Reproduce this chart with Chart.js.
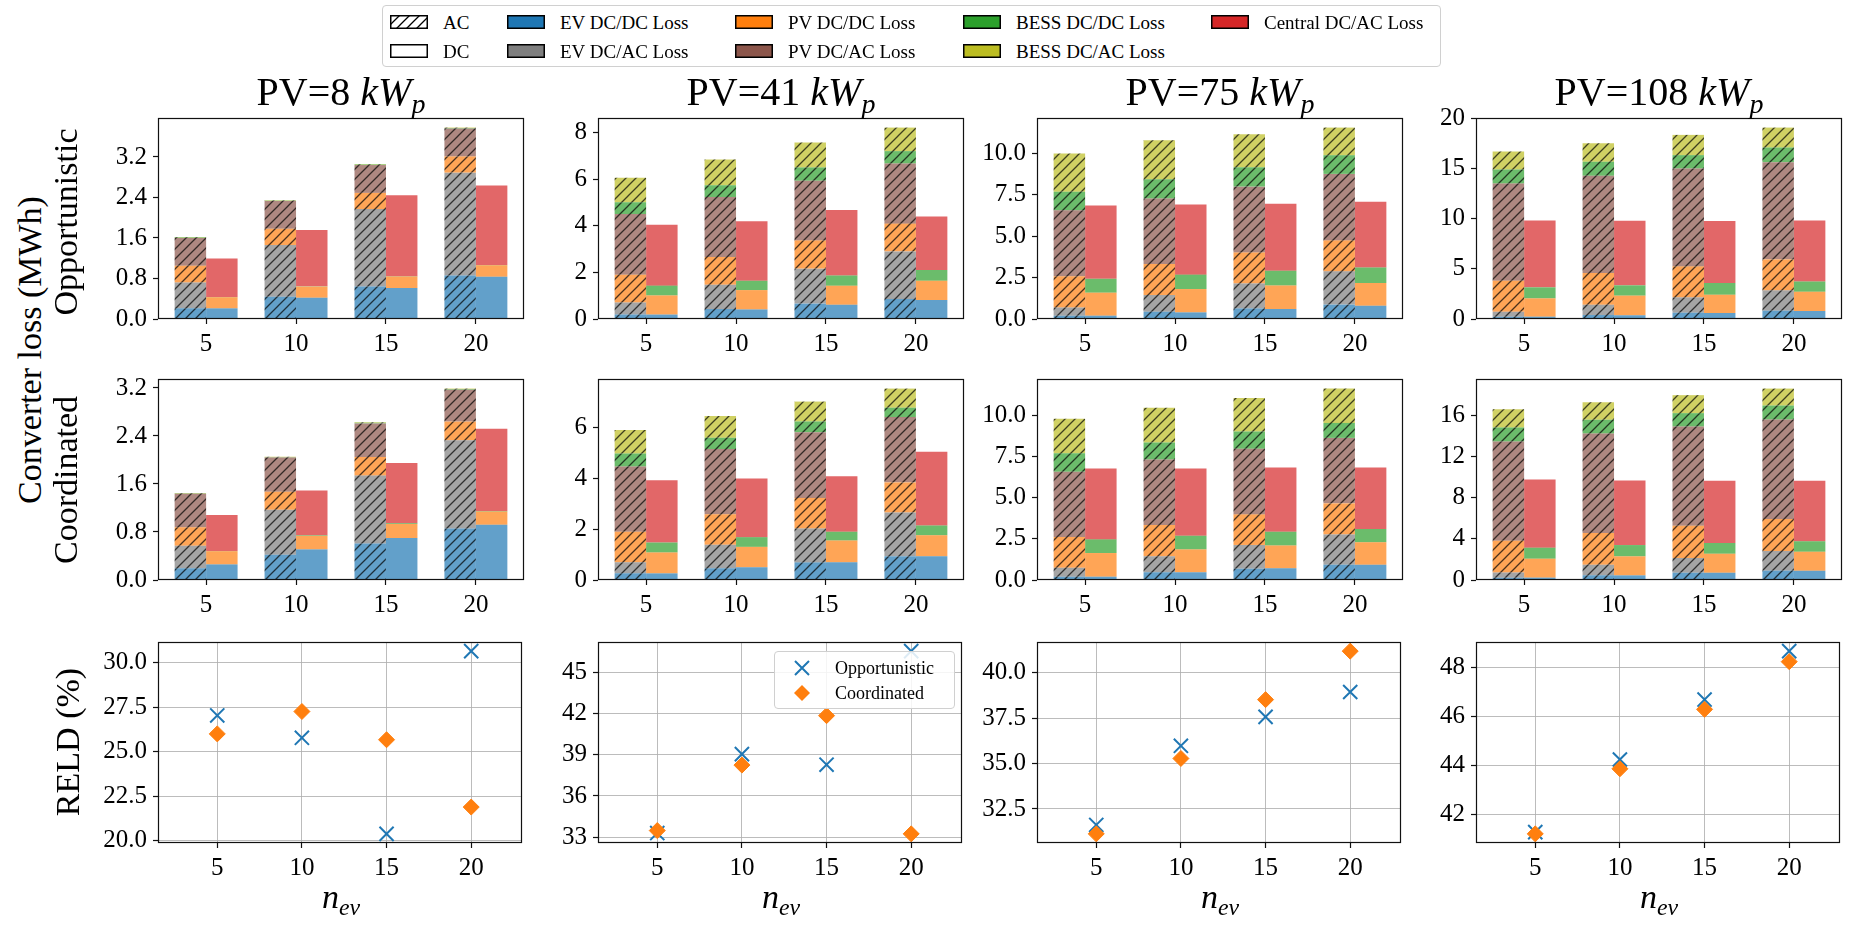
<!DOCTYPE html>
<html>
<head>
<meta charset="utf-8">
<script src="https://cdn.jsdelivr.net/npm/chart.js@4.4.0/dist/chart.umd.min.js"></script>
<style>
  body { margin: 0; width: 1850px; height: 926px; background: #fff; position: relative; overflow: hidden;
         font-family: "Liberation Serif", serif; color: #000; }
  canvas.panel { position: absolute; }
  .lbl { position: absolute; white-space: nowrap; line-height: 1; }
  .center { transform: translateX(-50%); }
  .rot { transform: translate(-50%, -50%) rotate(-90deg); }
  sub { font-size: 0.7em; vertical-align: -0.3em; }
  #legend { position: absolute; left: 382px; top: 5px; width: 1059px; height: 62px; box-sizing: border-box;
            border: 1px solid #d0d0d0; border-radius: 4px; background: #fff; z-index: 5; }
  #legend2 { position: absolute; left: 774px; top: 651px; width: 181px; height: 58px; box-sizing: border-box;
             border: 1px solid #d0d0d0; border-radius: 4px; background: rgba(255,255,255,0.85); z-index: 5; }
  .leg-txt { position: absolute; white-space: nowrap; line-height: 1; transform: translateY(-50%); }
  .leg-box { position: absolute; }
</style>
</head>
<body>
<div id="legend"></div>
<div id="legend2"></div>
<script>
const pvSizes = [8, 41, 75, 108];
const nEv = [5, 10, 15, 20];

// Converter losses (MWh), one row per PV size, one column per n_ev
// Opportunistic, AC-coupled bar (bottom to top)
const oppAcEvDcdc   = [[0.21, 0.44, 0.64, 0.86], [0.19, 0.43, 0.66, 0.86], [0.20, 0.44, 0.64, 0.87], [0.23, 0.40, 0.63, 0.83]];
const oppAcEvDcac   = [[0.51, 1.02, 1.53, 2.03], [0.52, 1.04, 1.50, 2.04], [0.50, 1.01, 1.51, 2.01], [0.50, 1.03, 1.53, 2.03]];
const oppAcPvDcdc   = [[0.33, 0.32, 0.32, 0.32], [1.19, 1.19, 1.21, 1.19], [1.88, 1.87, 1.87, 1.87], [3.09, 3.15, 3.09, 3.09]];
const oppAcPvDcac   = [[0.55, 0.55, 0.55, 0.55], [2.60, 2.57, 2.56, 2.58], [4.00, 3.96, 3.98, 4.02], [9.70, 9.71, 9.77, 9.70]];
const oppAcBessDcdc = [[0.01, 0.005, 0.01, 0.01], [0.51, 0.51, 0.57, 0.53], [1.11, 1.17, 1.17, 1.13], [1.40, 1.39, 1.33, 1.46]];
const oppAcBessDcac = [[0.01, 0.01, 0.01, 0.01], [1.05, 1.10, 1.07, 1.01], [2.31, 2.35, 2.00, 1.67], [1.79, 1.86, 2.02, 1.99]];
// Opportunistic, DC-coupled bar
const oppDcEvDcdc   = [[0.21, 0.42, 0.61, 0.835], [0.19, 0.41, 0.61, 0.81], [0.20, 0.40, 0.60, 0.80], [0.23, 0.37, 0.60, 0.80]];
const oppDcPvDcdc   = [[0.22, 0.22, 0.23, 0.225], [0.82, 0.83, 0.82, 0.83], [1.39, 1.41, 1.43, 1.37], [1.83, 1.96, 1.83, 1.92]];
const oppDcBessDcdc = [[0.005, 0.005, 0.005, 0.005], [0.42, 0.40, 0.44, 0.46], [0.84, 0.87, 0.89, 0.95], [1.10, 1.03, 1.16, 1.03]];
const oppDcCentral  = [[0.76, 1.11, 1.60, 1.57], [2.61, 2.55, 2.80, 2.30], [4.43, 4.24, 4.04, 3.96], [6.67, 6.44, 6.18, 6.08]];

// Coordinated, AC-coupled bar
const coAcEvDcdc   = [[0.195, 0.42, 0.61, 0.86], [0.26, 0.46, 0.69, 0.93], [0.20, 0.47, 0.69, 0.93], [0.23, 0.45, 0.71, 0.91]];
const coAcEvDcac   = [[0.375, 0.75, 1.13, 1.47], [0.44, 0.92, 1.33, 1.72], [0.55, 0.97, 1.44, 1.84], [0.51, 1.04, 1.43, 1.91]];
const coAcPvDcdc   = [[0.31, 0.30, 0.31, 0.31], [1.19, 1.20, 1.20, 1.18], [1.86, 1.90, 1.86, 1.89], [3.08, 3.08, 3.14, 3.11]];
const coAcPvDcac   = [[0.556, 0.57, 0.56, 0.53], [2.56, 2.56, 2.58, 2.56], [3.97, 3.99, 3.99, 3.98], [9.65, 9.68, 9.65, 9.68]];
const coAcBessDcdc = [[0.005, 0.005, 0.01, 0.01], [0.51, 0.44, 0.42, 0.37], [1.13, 1.03, 1.05, 0.91], [1.36, 1.33, 1.30, 1.36]];
const coAcBessDcac = [[0.008, 0.008, 0.01, 0.01], [0.92, 0.85, 0.78, 0.75], [2.09, 2.11, 2.04, 2.09], [1.79, 1.72, 1.75, 1.65]];
// Coordinated, DC-coupled bar
const coDcEvDcdc   = [[0.26, 0.51, 0.70, 0.92], [0.26, 0.50, 0.70, 0.93], [0.20, 0.47, 0.71, 0.93], [0.23, 0.45, 0.71, 0.91]];
const coDcPvDcdc   = [[0.22, 0.225, 0.235, 0.22], [0.82, 0.80, 0.85, 0.83], [1.44, 1.39, 1.39, 1.36], [1.84, 1.85, 1.85, 1.84]];
const coDcBessDcdc = [[0.003, 0.01, 0.01, 0.01], [0.39, 0.38, 0.34, 0.38], [0.83, 0.83, 0.84, 0.81], [1.07, 1.10, 1.04, 1.01]];
const coDcCentral  = [[0.60, 0.745, 1.005, 1.37], [2.44, 2.30, 2.18, 2.89], [4.31, 4.09, 3.90, 3.74], [6.64, 6.28, 6.05, 5.89]];

// RELD (%)
const reldOpp   = [[27.04, 25.78, 20.37, 30.66], [33.30, 39.05, 38.28, 46.55], [31.62, 35.98, 37.57, 38.94], [41.27, 44.24, 46.69, 48.67]];
const reldCoord = [[26.00, 27.26, 25.67, 21.88], [33.48, 38.25, 41.85, 33.24], [31.13, 35.28, 38.52, 41.19], [41.20, 43.86, 46.29, 48.24]];

// tick labels
const oppTicks   = [[0, 0.8, 1.6, 2.4, 3.2], [0, 2, 4, 6, 8], [0, 2.5, 5, 7.5, 10], [0, 5, 10, 15, 20]];
const coTicks    = [[0, 0.8, 1.6, 2.4, 3.2], [0, 2, 4, 6], [0, 2.5, 5, 7.5, 10], [0, 4, 8, 12, 16]];
const reldTicks  = [[20, 22.5, 25, 27.5, 30], [33, 36, 39, 42, 45], [32.5, 35, 37.5, 40], [42, 44, 46, 48]];
const tickDigits = [1, 0, 1, 0];

const seriesNames = ["EV DC/DC Loss", "EV DC/AC Loss", "PV DC/DC Loss", "PV DC/AC Loss", "BESS DC/DC Loss", "BESS DC/AC Loss", "Central DC/AC Loss"];
const rgb = {
  ev: "31,119,180", evac: "127,127,127", pv: "255,127,14", pvac: "140,86,75",
  bess: "44,160,44", bessac: "188,189,34", central: "214,39,40"
};

// layout of the plot areas
const colL = [158, 598, 1037, 1476];
const rowT = [118, 379, 642];
const plotW = 366, plotH = 201;
const padL = 80, padT = 22, padR = 10, padB = 50;

Chart.defaults.font.family = '"Liberation Serif", serif';
Chart.defaults.font.size = 25;
Chart.defaults.color = "#000";

function hatch(fill, line) {
  const n = 10;
  const c = document.createElement("canvas");
  c.width = n; c.height = n;
  const g = c.getContext("2d");
  g.fillStyle = fill;
  g.fillRect(0, 0, n, n);
  g.strokeStyle = line;
  g.lineWidth = 1.3;
  g.beginPath();
  g.moveTo(0, n); g.lineTo(n, 0);
  g.moveTo(-1, 1); g.lineTo(1, -1);
  g.moveTo(n - 1, n + 1); g.lineTo(n + 1, n - 1);
  g.stroke();
  return g.createPattern(c, "repeat");
}

const frame = {
  id: "frame",
  afterDatasetsDraw(chart) {
    const { ctx, chartArea: a } = chart;
    ctx.save();
    ctx.strokeStyle = "#111";
    ctx.lineWidth = 1.2;
    ctx.strokeRect(Math.round(a.left) + 0.5, Math.round(a.top) + 0.5,
                   Math.round(a.right - a.left) - 1, Math.round(a.bottom - a.top) - 1);
    ctx.restore();
  }
};

function makeCanvas(r, c) {
  const cv = document.createElement("canvas");
  cv.className = "panel";
  cv.width = padL + plotW + padR;
  cv.height = padT + plotH + padB;
  cv.style.left = (colL[c] - padL) + "px";
  cv.style.top = (rowT[r] - padT) + "px";
  document.body.appendChild(cv);
  return cv;
}

function axes(xmin, xmax, ymin, ymax, yTicks, digits, gridOn, stacked) {
  const grid = { drawOnChartArea: gridOn, offset: false, color: "rgba(176,176,176,0.85)", lineWidth: 1,
                 tickLength: 5, tickColor: "#111", tickWidth: 1.2 };
  return {
    x: {
      type: "linear", min: xmin, max: xmax, stacked: stacked, offset: false,
      afterBuildTicks: s => { s.ticks = nEv.map(v => ({ value: v })); },
      afterFit: s => { s.height = padB; },
      grid: grid, border: { display: false },
      ticks: { padding: 5, maxRotation: 0, autoSkip: false }
    },
    y: {
      type: "linear", min: ymin, max: ymax, stacked: stacked, offset: false,
      afterBuildTicks: s => { s.ticks = yTicks.map(v => ({ value: v })); },
      afterFit: s => { s.width = padL; },
      grid: grid, border: { display: false },
      ticks: { padding: 6, autoSkip: false, callback: v => Number(v).toFixed(digits) }
    }
  };
}

function barPanel(r, c, acRows, dcRows, yTicks) {
  const acKeys = ["ev", "evac", "pv", "pvac", "bess", "bessac"];
  const dcKeys = ["ev", "pv", "bess", "central"];
  const datasets = [];
  acRows.forEach((arr, k) => datasets.push({
    label: "AC " + k, stack: "AC",
    data: nEv.map((n, i) => ({ x: n, y: arr[c][i] })),
    backgroundColor: hatch("rgba(" + rgb[acKeys[k]] + ",0.7)", "rgba(0,0,0,0.7)")
  }));
  dcRows.forEach((arr, k) => datasets.push({
    label: "DC " + k, stack: "DC",
    data: nEv.map((n, i) => ({ x: n, y: arr[c][i] })),
    backgroundColor: "rgba(" + rgb[dcKeys[k]] + ",0.7)"
  }));
  const tot = rows => Math.max(...nEv.map((n, i) => rows.reduce((s, a) => s + a[c][i], 0)));
  const ymax = 1.05 * Math.max(tot(acRows), tot(dcRows));
  new Chart(makeCanvas(r, c), {
    type: "bar",
    data: { datasets },
    options: {
      responsive: false, animation: false, devicePixelRatio: 1,
      layout: { padding: { top: padT, right: padR, left: 0, bottom: 0 } },
      datasets: { bar: { categoryPercentage: 0.7, barPercentage: 1.0, borderWidth: 0 } },
      plugins: { legend: { display: false }, tooltip: { enabled: false } },
      scales: axes(2.325, 22.675, 0, ymax, yTicks, tickDigits[c], false, true)
    },
    plugins: [frame]
  });
}

function scatterPanel(c) {
  const all = reldOpp[c].concat(reldCoord[c]);
  const lo = Math.min(...all), hi = Math.max(...all), m = 0.05 * (hi - lo);
  new Chart(makeCanvas(2, c), {
    type: "scatter",
    data: {
      datasets: [
        { label: "Opportunistic", order: 1, data: nEv.map((n, i) => ({ x: n, y: reldOpp[c][i] })),
          pointStyle: "crossRot", pointRadius: 10, borderWidth: 2,
          borderColor: "#1f77b4", backgroundColor: "#1f77b4" },
        { label: "Coordinated", order: 0, data: nEv.map((n, i) => ({ x: n, y: reldCoord[c][i] })),
          pointStyle: "rectRot", pointRadius: 8, borderWidth: 1,
          borderColor: "#ff7f0e", backgroundColor: "#ff7f0e" }
      ]
    },
    options: {
      responsive: false, animation: false, devicePixelRatio: 1,
      layout: { padding: { top: padT, right: padR, left: 0, bottom: 0 } },
      plugins: { legend: { display: false }, tooltip: { enabled: false } },
      scales: axes(1.5, 23, lo - m, hi + m, reldTicks[c], tickDigits[c], true, false)
    },
    plugins: [frame]
  });
}

const oppAc = [oppAcEvDcdc, oppAcEvDcac, oppAcPvDcdc, oppAcPvDcac, oppAcBessDcdc, oppAcBessDcac];
const oppDc = [oppDcEvDcdc, oppDcPvDcdc, oppDcBessDcdc, oppDcCentral];
const coAc = [coAcEvDcdc, coAcEvDcac, coAcPvDcdc, coAcPvDcac, coAcBessDcdc, coAcBessDcac];
const coDc = [coDcEvDcdc, coDcPvDcdc, coDcBessDcdc, coDcCentral];

for (let c = 0; c < 4; c++) {
  barPanel(0, c, oppAc, oppDc, oppTicks[c]);
  barPanel(1, c, coAc, coDc, coTicks[c]);
  scatterPanel(c);
}

// text labels
function addLabel(html, cls, x, y, size) {
  const d = document.createElement("div");
  d.className = "lbl " + cls;
  d.innerHTML = html;
  d.style.left = x + "px";
  d.style.top = y + "px";
  d.style.fontSize = size + "px";
  document.body.appendChild(d);
}
pvSizes.forEach((pv, c) => {
  addLabel("PV=" + pv + " <i>kW</i><sub><i>p</i></sub>", "center", colL[c] + plotW / 2, 72, 40);
  addLabel("<i>n</i><sub><i>ev</i></sub>", "center", colL[c] + plotW / 2, 880, 34);
});
addLabel("Converter loss (MWh)", "rot", 30, 350, 34);
addLabel("Opportunistic", "rot", 66, 222, 34);
addLabel("Coordinated", "rot", 66, 480, 34);
addLabel("RELD (%)", "rot", 68, 742, 34);

// main legend
function patch(fill, hatched) {
  const c = document.createElement("canvas");
  c.width = 38; c.height = 14;
  c.className = "leg-box";
  const g = c.getContext("2d");
  g.fillStyle = hatched ? hatch(fill, "#000") : fill;
  g.fillRect(0, 0, 38, 14);
  g.strokeStyle = "#000"; g.lineWidth = 1.5;
  g.strokeRect(0.75, 0.75, 36.5, 12.5);
  return c;
}
const legEntries = [
  ["AC", "#fff", true], ["DC", "#fff", false],
  [seriesNames[0], "rgb(" + rgb.ev + ")"], [seriesNames[1], "rgb(" + rgb.evac + ")"],
  [seriesNames[2], "rgb(" + rgb.pv + ")"], [seriesNames[3], "rgb(" + rgb.pvac + ")"],
  [seriesNames[4], "rgb(" + rgb.bess + ")"], [seriesNames[5], "rgb(" + rgb.bessac + ")"],
  [seriesNames[6], "rgb(" + rgb.central + ")"]
];
const legPatchX = [7, 124, 352, 580, 828];
const legRowY = [16, 45];
const legend = document.getElementById("legend");
legEntries.forEach((e, i) => {
  const col = Math.floor(i / 2), row = i % 2;
  const p = patch(e[1], e[2]);
  p.style.left = legPatchX[col] + "px";
  p.style.top = (legRowY[row] - 7) + "px";
  legend.appendChild(p);
  const t = document.createElement("div");
  t.className = "leg-txt";
  t.textContent = e[0];
  t.style.left = (legPatchX[col] + 53) + "px";
  t.style.top = legRowY[row] + "px";
  t.style.fontSize = "19px";
  legend.appendChild(t);
});

// scatter legend
const legend2 = document.getElementById("legend2");
[["Opportunistic", "x"], ["Coordinated", "d"]].forEach((e, i) => {
  const c = document.createElement("canvas");
  c.width = 22; c.height = 22; c.className = "leg-box";
  c.style.left = "16px"; c.style.top = (16 + i * 25 - 11) + "px";
  const g = c.getContext("2d");
  if (e[1] === "x") {
    g.strokeStyle = "#1f77b4"; g.lineWidth = 2;
    g.beginPath(); g.moveTo(4, 4); g.lineTo(18, 18); g.moveTo(18, 4); g.lineTo(4, 18); g.stroke();
  } else {
    g.fillStyle = "#ff7f0e";
    g.beginPath(); g.moveTo(11, 3); g.lineTo(19, 11); g.lineTo(11, 19); g.lineTo(3, 11); g.closePath(); g.fill();
  }
  legend2.appendChild(c);
  const t = document.createElement("div");
  t.className = "leg-txt";
  t.textContent = e[0];
  t.style.left = "60px";
  t.style.top = (16 + i * 25) + "px";
  t.style.fontSize = "18px";
  legend2.appendChild(t);
});
</script>
</body>
</html>
